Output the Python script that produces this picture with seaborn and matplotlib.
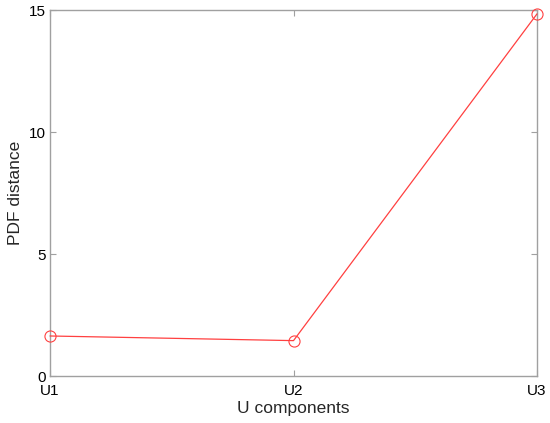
import matplotlib
matplotlib.use('Agg')
import matplotlib.pyplot as plt
import seaborn as sns
import pandas as pd

#
#  Values
#

components = ['U1','U2','U3']
pdf_distance = [1.64, 1.45, 14.84]

df = pd.DataFrame({'comp': components, 'dist': pdf_distance})
df['pos'] = range(len(df))

sns.set_style('white')
plt.rcParams['font.family'] = ['Liberation Sans', 'DejaVu Sans']

fig = plt.figure(figsize=(5.5,4.23), dpi=100)
ax = fig.add_axes([50/550, 47/423, 487/550, 366/423])

sns.lineplot(data=df, x='pos', y='dist', ax=ax, color='#ff4040',
             linewidth=0.9, marker='o', markersize=8,
             markerfacecolor='none', markeredgecolor='#ff4040',
             markeredgewidth=0.8, clip_on=False, zorder=5)

ax.set_xlim(0, 2)
ax.set_ylim(0, 15)
ax.set_xticks(df['pos'])
ax.set_xticklabels(components)
ax.set_yticks([0,5,10,15])

ax.set_xlabel('U components', fontsize=12.5, labelpad=2)
ax.set_ylabel('PDF distance', fontsize=12.5, labelpad=4)

for s in ax.spines.values():
    s.set_color('#a0a0a0')
    s.set_linewidth(1.0)

ax.tick_params(direction='in', length=4, color='#a0a0a0',
               labelsize=11, labelcolor='black', pad=3)
ax.tick_params(axis='x', pad=6)
ax.tick_params(top=True, right=True, bottom=True, left=True)

fig.savefig('out.png', dpi=100)
